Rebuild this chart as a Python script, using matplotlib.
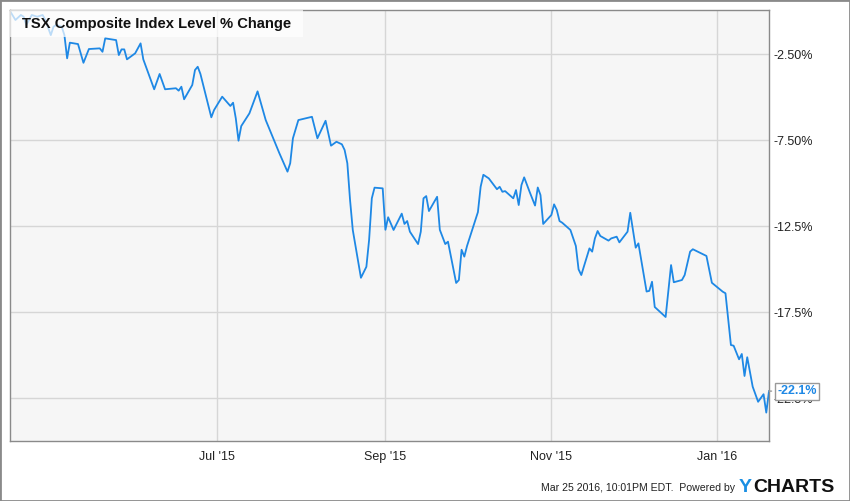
import pandas as pd
import matplotlib
matplotlib.use("Agg")
import matplotlib.pyplot as plt
import matplotlib.dates as mdates
from matplotlib.patches import Rectangle

plt.rcParams["font.family"] = ["Liberation Sans", "DejaVu Sans"]

# days counted from 2015-07-01, % change since start
base_date = "2015-07-01"
days = [-76, -74, -72, -71, -70, -68, -66, -64, -63, -61,
        -60, -59, -57, -56, -55, -54, -51, -49, -47, -43,
        -42, -41, -37, -36, -35, -34, -33, -30, -28, -27,
        -23, -21, -19, -15, -14, -13, -12, -9, -8, -7,
        -6, -2, -1, 2, 5, 6, 7, 8, 9, 12,
        15, 18, 21, 23, 26, 27, 28, 30, 35, 37,
        40, 41, 42, 44, 46, 47, 48, 49, 50, 53,
        55, 56, 57, 58, 61, 62, 63, 65, 68, 69,
        70, 71, 74, 75, 76, 77, 78, 81, 82, 84,
        85, 88, 89, 90, 91, 92, 96, 97, 98, 100,
        103, 104, 105, 106, 109, 110, 111, 112, 113, 115,
        117, 118, 119, 120, 123, 124, 125, 126, 127, 130,
        132, 133, 134, 137, 138, 139, 140, 141, 144, 145,
        147, 148, 151, 152, 154, 155, 158, 159, 160, 161,
        165, 167, 168, 171, 172, 174, 175, 180, 182, 186,
        187, 189, 190, 192, 193, 194, 195, 197, 199, 201,
        202, 203]
pct_change = [0.00, -0.52, -0.23, -0.33, -0.81, -0.23, -0.33, -0.23, -0.52, -1.40,
              -0.91, -0.81, -0.91, -1.40, -2.75, -1.84, -1.92, -3.01, -2.21, -2.17,
              -2.37, -1.59, -1.69, -2.56, -2.23, -2.23, -2.81, -2.46, -1.88, -2.81,
              -4.55, -3.66, -4.55, -4.49, -4.63, -4.40, -5.13, -4.30, -3.43, -3.24,
              -3.66, -6.18, -5.76, -4.98, -5.52, -5.33, -6.24, -7.54, -6.69, -5.95,
              -4.67, -6.34, -7.50, -8.26, -9.34, -8.85, -7.40, -6.34, -6.15, -7.40,
              -6.38, -7.11, -7.83, -7.60, -7.75, -8.08, -8.85, -10.99, -12.73, -15.51,
              -14.87, -13.31, -10.89, -10.27, -10.31, -12.72, -11.99, -12.73, -11.78, -12.38,
              -12.21, -12.83, -13.55, -12.83, -10.89, -10.76, -11.63, -10.80, -12.72, -13.55,
              -13.41, -15.81, -15.64, -13.88, -14.28, -13.66, -11.69, -10.22, -9.52, -9.73,
              -10.36, -10.22, -10.51, -10.47, -10.89, -10.41, -11.28, -10.12, -9.67, -10.51,
              -11.31, -10.26, -10.70, -12.38, -11.86, -11.24, -11.57, -12.21, -12.31, -12.73,
              -13.66, -15.02, -15.35, -13.80, -13.99, -13.22, -12.79, -13.08, -13.35, -13.22,
              -13.12, -13.45, -12.83, -11.73, -13.76, -13.51, -16.31, -16.27, -15.74, -17.21,
              -17.79, -14.77, -15.77, -15.64, -15.35, -13.99, -13.85, -14.24, -15.80, -16.32,
              -16.41, -19.42, -19.46, -20.25, -19.94, -21.22, -20.13, -21.84, -22.72, -22.28,
              -23.35, -22.10]

y_ticks = [-2.5, -7.5, -12.5, -17.5, -22.5]
y_tick_labels = ["-2.50%", "-7.50%", "-12.5%", "-17.5%", "-22.5%"]
title = "TSX Composite Index Level % Change"
footer = "Mar 25 2016, 10:01PM EDT.  Powered by"

dates = pd.Timestamp(base_date) + pd.to_timedelta(days, unit="D")
blue = "#1e88e5"

fig = plt.figure(figsize=(8.5, 5.01), dpi=100)
ax = fig.add_axes([10 / 850, 60 / 501, 759 / 850, 431 / 501])
ax.set_facecolor("#f6f6f6")

ax.plot(dates, pct_change, color=blue, lw=1.3, zorder=2)

ax.set_xlim(dates[0], dates[-1])
ax.set_ylim(-25.0, 0.06)

ax.xaxis.set_major_locator(mdates.MonthLocator(bymonth=[1, 7, 9, 11]))
ax.xaxis.set_major_formatter(mdates.DateFormatter("%b '%y"))
ax.set_yticks(y_ticks)
ax.set_yticklabels(y_tick_labels)
ax.yaxis.tick_right()
ax.tick_params(axis="both", length=0, labelsize=9, colors="#222222")
ax.tick_params(axis="x", pad=7)
ax.tick_params(axis="y", pad=3)
ax.grid(True, color="#d6d6d6", lw=1)
ax.set_axisbelow(True)
for s in ax.spines.values():
    s.set_color("#8a8a8a")
    s.set_linewidth(1)

# title box
ax.add_patch(Rectangle((0, 1 - 27 / 431), 293 / 759, 27 / 431, transform=ax.transAxes,
                       facecolor="white", alpha=0.7, edgecolor="none", zorder=3))
ax.text(12 / 759, 1 - 14 / 431, title, transform=ax.transAxes, fontsize=10.6,
        fontweight="bold", color="#111111", va="center", ha="left", zorder=4)

# last value callout (covers part of the -22.5% label, as in the original)
ax.annotate(f"{pct_change[-1]:.1f}%", xy=(dates[-1], pct_change[-1]), xytext=(6, 0),
            textcoords="offset points", ha="left", va="center", fontsize=9,
            fontweight="bold", color=blue, annotation_clip=False, zorder=6,
            bbox=dict(boxstyle="square,pad=0.2", fc="white", ec="#999999", lw=1),
            arrowprops=dict(arrowstyle="-", color="#999999", lw=1))

# footer
fig.text(735 / 850, 1 - 491 / 501, footer, fontsize=7.6, color="#222222",
         ha="right", va="baseline")
fig.text(739 / 850, 1 - 492 / 501, "Y", fontsize=14, fontweight="bold",
         color="#1a8fe3", ha="left", va="baseline")
fig.text(753 / 850, 1 - 492 / 501, "CHARTS", fontsize=14, fontweight="bold",
         color="#111111", ha="left", va="baseline")

fig.add_artist(Rectangle((0, 0), 1, 1, transform=fig.transFigure, fill=False,
                         edgecolor="#8a8a8a", lw=2))

fig.savefig("out.png", dpi=100)
